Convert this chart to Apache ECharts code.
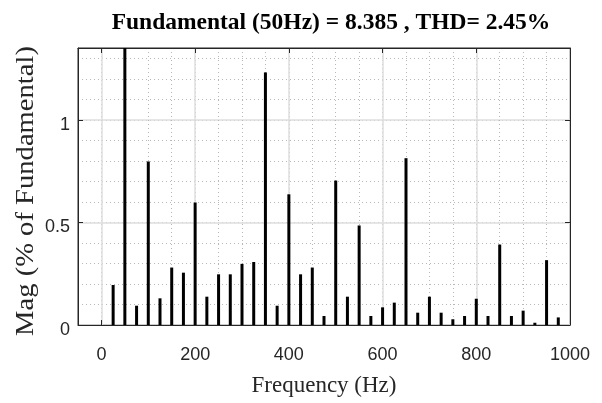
<!DOCTYPE html>
<html>
<head>
<meta charset="utf-8">
<script src="https://cdn.jsdelivr.net/npm/echarts@6/dist/echarts.min.js"></script>
<style>
  html, body { margin: 0; padding: 0; background: #fff; }
  #chart { width: 602px; height: 403px; }
</style>
</head>
<body>
<div id="chart"></div>
<script>
// ---- data ----
const titleText = 'Fundamental (50Hz) = 8.385 , THD= 2.45%';
const xName = 'Frequency (Hz)';
const yName = 'Mag (% of Fundamental)';
const frequencies = [0, 25, 50, 75, 100, 125, 150, 175, 200, 225, 250, 275, 300, 325, 350, 375, 400,
  425, 450, 475, 500, 525, 550, 575, 600, 625, 650, 675, 700, 725, 750, 775, 800, 825, 850, 875, 900,
  925, 950, 975, 1000];
const magnitudes = [0, 0.195, 100, 0.094, 0.797, 0.13, 0.28, 0.255, 0.597, 0.138, 0.247, 0.247, 0.298,
  0.307, 1.231, 0.094, 0.637, 0.247, 0.28, 0.044, 0.704, 0.138, 0.485, 0.044, 0.086, 0.109, 0.813,
  0.06, 0.138, 0.06, 0.028, 0.044, 0.128, 0.044, 0.392, 0.044, 0.07, 0.011, 0.316, 0.037, 0];
const xTicks = [0, 200, 400, 600, 800, 1000];
const yTicks = [0, 0.5, 1];
const xMin = -50, xMax = 1000, xMinorStep = 50;
const yMin = 0, yMax = 1.35, yMinorStep = 0.1;

// ---- styles ----
const axisColor = '#262626';
const majorGrid = '#dedede';
const minorGrid = '#b8b8b8';
const sans = 'Liberation Sans, Arial, sans-serif';
const serif = 'Liberation Serif, Times New Roman, serif';

const chart = echarts.init(document.getElementById('chart'), null, { renderer: 'canvas' });

const hidden = { show: false };
const option = {
  animation: false,
  backgroundColor: '#ffffff',
  title: {
    text: titleText,
    left: 326,
    textAlign: 'center',
    top: 6,
    textStyle: { fontFamily: serif, fontWeight: 'bold', fontSize: 23.5, color: '#000' }
  },
  grid: {
    left: 78, top: 48, right: 32, bottom: 78,
    show: true, borderColor: axisColor, borderWidth: 1, backgroundColor: 'transparent'
  },
  graphic: [{
    type: 'text',
    x: 26,
    y: 191,
    rotation: Math.PI / 2,
    scaleX: 1.1,
    style: {
      text: yName,
      fontFamily: serif,
      fontSize: 26,
      fill: axisColor,
      align: 'center',
      verticalAlign: 'middle'
    }
  }],
  xAxis: [
    { // minor dotted grid
      type: 'value', min: xMin, max: xMax, interval: xMinorStep, position: 'bottom',
      axisLine: hidden, axisTick: hidden, axisLabel: hidden,
      splitLine: { show: true, lineStyle: { color: minorGrid, width: 1, type: [1, 3] } }
    },
    { // major bottom axis
      type: 'value', min: xMin, max: xMax, position: 'bottom',
      axisLine: { show: true, onZero: false, lineStyle: { color: axisColor, width: 1 } },
      axisTick: { show: true, inside: true, length: 5, customValues: xTicks, lineStyle: { color: axisColor } },
      axisLabel: { show: true, customValues: xTicks, formatter: v => String(v),
        fontFamily: sans, fontSize: 18, color: axisColor, margin: 21 },
      splitLine: { show: true, lineStyle: { color: majorGrid, width: 1.5 } },
      name: xName, nameLocation: 'middle', nameGap: 49,
      nameTextStyle: { fontFamily: serif, fontSize: 23, color: axisColor }
    },
    { // top axis (ticks only)
      type: 'value', min: xMin, max: xMax, position: 'top',
      axisLine: { show: true, onZero: false, lineStyle: { color: axisColor, width: 1 } },
      axisTick: { show: true, inside: true, length: 5, customValues: xTicks, lineStyle: { color: axisColor } },
      axisLabel: hidden, splitLine: hidden
    }
  ],
  yAxis: [
    { // minor dotted grid
      type: 'value', min: yMin, max: yMax, interval: yMinorStep, position: 'left',
      axisLine: hidden, axisTick: hidden, axisLabel: hidden,
      splitLine: { show: true, lineStyle: { color: minorGrid, width: 1, type: [1, 3] } }
    },
    { // major left axis
      type: 'value', min: yMin, max: yMax, position: 'left',
      axisLine: { show: true, onZero: false, lineStyle: { color: axisColor, width: 1 } },
      axisTick: { show: true, inside: true, length: 5, customValues: yTicks, lineStyle: { color: axisColor } },
      axisLabel: { show: true, customValues: yTicks, fontFamily: sans, fontSize: 18, color: axisColor, margin: 8,
        verticalAlign: 'top', lineHeight: 18, padding: [-4, 0, 0, 0] },
      splitLine: { show: true, lineStyle: { color: majorGrid, width: 1.5 } }
    },
    { // right axis (ticks only)
      type: 'value', min: yMin, max: yMax, position: 'right',
      axisLine: { show: true, onZero: false, lineStyle: { color: axisColor, width: 1 } },
      axisTick: { show: true, inside: true, length: 5, customValues: yTicks, lineStyle: { color: axisColor } },
      axisLabel: hidden, splitLine: hidden
    }
  ],
  series: [{
    type: 'bar',
    xAxisIndex: 1,
    yAxisIndex: 1,
    clip: true,
    barWidth: 3,
    itemStyle: { color: '#000' },
    data: frequencies.map((f, i) => [f, magnitudes[i]])
  }]
};
chart.setOption(option);
</script>
</body>
</html>
